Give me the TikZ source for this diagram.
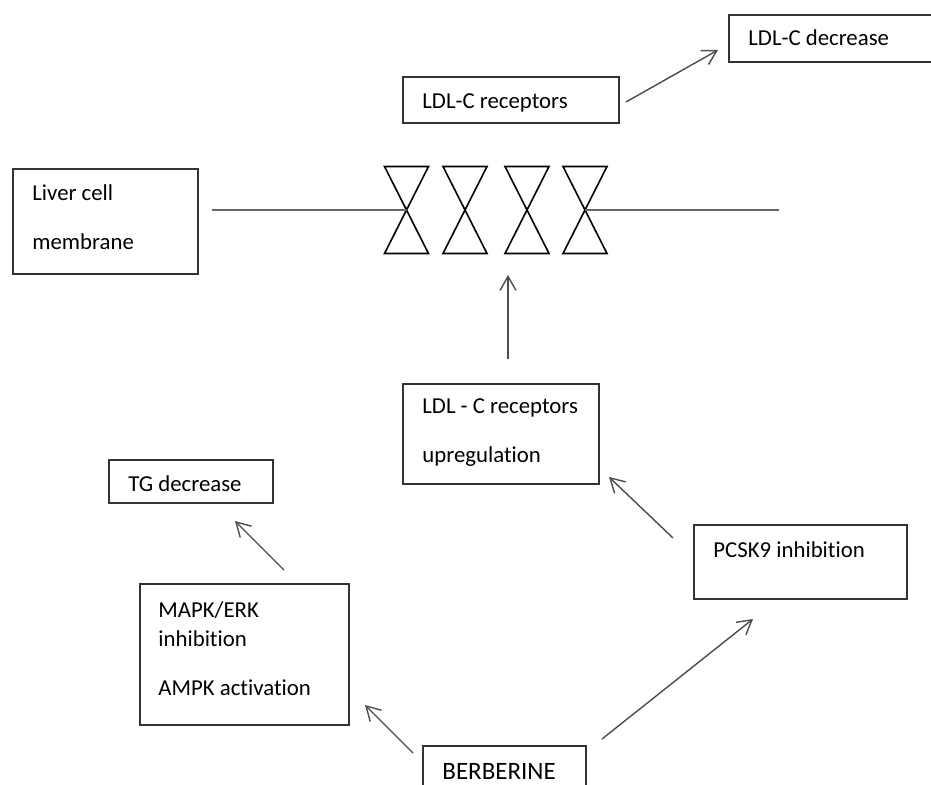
\documentclass[tikz,border=0pt]{standalone}
\usepackage{fontspec}
\setmainfont{Carlito}[Ligatures=NoCommon]
\usepackage{tikz}
\usetikzlibrary{arrows.meta,positioning}

\begin{document}
\begin{tikzpicture}
[x=0.5pt,y=-0.5pt,
box/.style={draw=black!80,line width=1pt,inner sep=0pt},
txt/.style={inner sep=0pt,anchor=west,align=left,font=\fontsize{11.4}{14.5}\selectfont},
recep/.style={draw=black,line width=0.8pt,line join=miter},
memb/.style={draw=black!60,line width=0.8pt},
arr/.style={draw=black!70,line width=0.7pt,-{Straight Barb[length=7pt,width=8pt]}}]
\useasboundingbox (0,0) rectangle (931,785);
\clip (0,0) rectangle (931,785);

% boxes
\node[box,minimum width=115.5pt,minimum height=23.5pt] (ldldec) at (844.5,38.5) {};
\node[box,minimum width=108pt,minimum height=23pt] (ldlrec) at (511,100) {};
\node[box,minimum width=92.5pt,minimum height=52.5pt] (liver) at (105.5,221.5) {};
\node[box,minimum width=98pt,minimum height=50pt] (upreg) at (501,434) {};
\node[box,minimum width=106.5pt,minimum height=37pt] (pcsk) at (800.5,562) {};
\node[box,minimum width=82pt,minimum height=21.5pt] (tgdec) at (191,481.5) {};
\node[box,minimum width=104.5pt,minimum height=70.5pt] (mapk) at (244.5,654.5) {};
\node[box,minimum width=81.5pt,minimum height=25pt] (berb) at (504.5,771) {};

% texts
\node[txt] (ldldect) at (748,38) {LDL-C decrease};
\node[txt] (ldlrect) at (422,103) {LDL-C receptors};
\node[txt] (livert) at (32,217.5) {Liver cell\\[10pt]membrane};
\node[txt] (upregt) at (422,433) {LDL - C receptors\\[10pt]upregulation};
\node[txt] (pcskt) at (713,550) {PCSK9 inhibition};
\node[txt] (tgdect) at (128,484) {TG decrease};
\node[txt] (mapkt) at (158,648.5) {MAPK/ERK\\inhibition\\[10pt]AMPK activation};
\node[txt,font=\fontsize{12.5}{15}\selectfont] (berbt) at (442,771) {BERBERINE};

% receptors in the membrane
\foreach \n/\x in {1/406.5,2/465,3/527,4/585}{
  \coordinate (r\n) at (\x,210);
  \draw[recep,shift={(r\n)}] (-22,-43.5) -- (22,-43.5) -- (-22,43.5) -- (22,43.5) -- cycle;
}
\coordinate (ml) at (212,210);
\coordinate (mr) at (779,210);
\draw[memb] (ml) -- (r1);
\draw[memb] (r4) -- (mr);

% arrows
\coordinate (a1s) at (626,102);
\coordinate (a1e) at (718,50);
\coordinate (a2s) at (508,359);
\coordinate (a2e) at (508,275);
\coordinate (a3s) at (673,538);
\coordinate (a3e) at (609,477);
\coordinate (a4s) at (284,570);
\coordinate (a4e) at (235,521);
\coordinate (a5s) at (413,753);
\coordinate (a5e) at (365,705);
\coordinate (a6s) at (602,739);
\coordinate (a6e) at (753,619);
\draw[arr] (a1s) -- (a1e);
\draw[arr] (a2s) -- (a2e);
\draw[arr] (a3s) -- (a3e);
\draw[arr] (a4s) -- (a4e);
\draw[arr] (a5s) -- (a5e);
\draw[arr] (a6s) -- (a6e);
\end{tikzpicture}
\end{document}
